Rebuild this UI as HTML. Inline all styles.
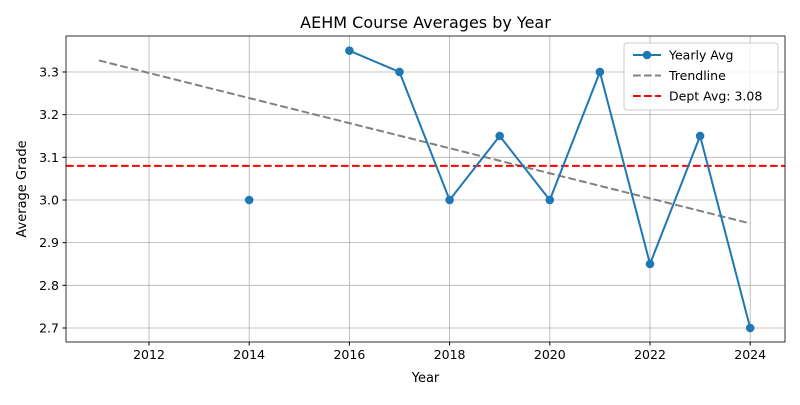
<!DOCTYPE html>
<html><head><meta charset="utf-8"><style>
body{margin:0;background:#fff;}
svg text{font-family:"DejaVu Sans","Liberation Sans",sans-serif;fill:#000;}
</style></head><body>
<svg id="chart" width="800" height="400" xmlns="http://www.w3.org/2000/svg"></svg>
<script>
const years=[2014,2015,2016,2017,2018,2019,2020,2021,2022,2023,2024];
const avgs=[3.0,null,3.35,3.3,3.0,3.15,3.0,3.3,2.85,3.15,2.7];
const trendYears=[2011,2024];
const trendVals=[3.327,2.945];
const deptAvg=[3.08];
const xTicks=[2012,2014,2016,2018,2020,2022,2024];
const yTicks=[2.7,2.8,2.9,3.0,3.1,3.2,3.3];

const L=66,R=785,T=36,B=342;
const x=v=>149+(v-2012)*50.1;
const y=v=>328-(v-2.7)*426.7;
const svg=document.getElementById('chart');
const NS='http://www.w3.org/2000/svg';
function mk(tag,attrs,parent){const e=document.createElementNS(NS,tag);for(const k in attrs)e.setAttribute(k,attrs[k]);(parent||svg).appendChild(e);return e;}

const grid=mk('g',{});


xTicks.forEach(t=>{mk('line',{x1:x(t),x2:x(t),y1:T,y2:B,stroke:'#b0b0b0','stroke-width':0.8},grid);});
yTicks.forEach(t=>{mk('line',{x1:L,x2:R,y1:y(t),y2:y(t),stroke:'#b0b0b0','stroke-width':0.8},grid);});

const xa=mk('g',{});


xTicks.forEach(t=>{mk('line',{x1:x(t),x2:x(t),y1:B,y2:B+3.5,stroke:'#000'},xa);
 const tx=mk('text',{x:x(t),y:B+17,'text-anchor':'middle','font-size':12.5},xa);tx.textContent=t;});
const ya=mk('g',{});


yTicks.forEach(t=>{mk('line',{x1:L-3.5,x2:L,y1:y(t),y2:y(t),stroke:'#000'},ya);
 const tx=mk('text',{x:L-7,y:y(t)+4.5,'text-anchor':'end','font-size':12.5},ya);tx.textContent=t.toFixed(1);});

const tl=mk('line',{x1:x(trendYears[0]),y1:y(trendVals[0]),x2:x(trendYears[1]),y2:y(trendVals[1]),stroke:'#808080','stroke-width':2,'stroke-dasharray':'7.7,3.3'});



const da=mk('line',{x1:L,x2:R,y1:y(deptAvg[0]),y2:y(deptAvg[0]),stroke:'#ff0000','stroke-width':2,'stroke-dasharray':'7.7,3.3'});



let d='',pen=false;
years.forEach((yr,i)=>{const v=avgs[i];if(v==null){pen=false;return;}d+=(pen?'L':'M')+x(yr)+' '+y(v)+' ';pen=true;});
const ln=mk('path',{d:d,fill:'none',stroke:'#1f77b4','stroke-width':2});


years.forEach((yr,i)=>{const v=avgs[i];if(v==null)return;
 const c=mk('circle',{cx:x(yr),cy:y(v),r:4.3,fill:'#1f77b4'});
 
 });

mk('rect',{x:L,y:T,width:R-L,height:B-T,fill:'none',stroke:'#000','stroke-width':0.8});

const ti=mk('text',{x:(L+R)/2,y:28,'text-anchor':'middle','font-size':16});ti.textContent='AEHM Course Averages by Year';

const xt=mk('text',{x:(L+R)/2,y:382,'text-anchor':'middle','font-size':13});xt.textContent='Year';

const yt=mk('text',{x:0,y:0,'text-anchor':'middle','font-size':13,transform:'translate(26,189) rotate(-90)'});yt.textContent='Average Grade';


const lg=mk('g',{});


mk('rect',{x:624,y:43,width:154,height:67,rx:3,fill:'#fff','fill-opacity':0.8,stroke:'#ccc'},lg);
const items=[['Yearly Avg','#1f77b4','',true],['Trendline','#808080','7.7,3.3',false],['Dept Avg: 3.08','#ff0000','7.7,3.3',false]];
items.forEach((it,i)=>{const yy=55+i*20.5;
 const l=mk('line',{x1:633,x2:661,y1:yy,y2:yy,stroke:it[1],'stroke-width':2},lg);if(it[2])l.setAttribute('stroke-dasharray',it[2]);
 if(it[3])mk('circle',{cx:647,cy:yy,r:4.3,fill:it[1]},lg);
 const t=mk('text',{x:669,y:yy+4.5,'font-size':12.5},lg);t.textContent=it[0];
 });
</script>
</body></html>
